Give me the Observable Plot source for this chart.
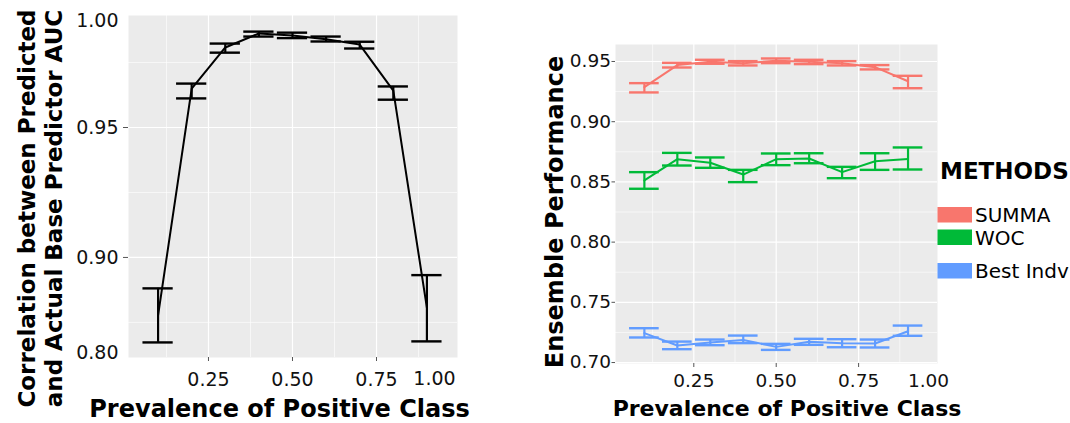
<!DOCTYPE html>
<html><head><meta charset="utf-8">
<script src="https://cdn.jsdelivr.net/npm/d3@7"></script>
<script src="https://cdn.jsdelivr.net/npm/@observablehq/plot@0.6"></script>
<style>
body{margin:0;background:#fff;}
#wrap{position:relative;width:1070px;height:423px;overflow:hidden;}
#left{position:absolute;left:0;top:0;}
#right{position:absolute;left:470px;top:0;}
#legend{position:absolute;left:0;top:0;pointer-events:none;}
</style></head><body>
<div id="wrap"><div id="left"></div><div id="right"></div><svg id="legend" width="1070" height="423"></svg></div>
<script>
// ---- data ----
const prevalence = [0.1, 0.2, 0.3, 0.4, 0.5, 0.6, 0.7, 0.8, 0.9];

// left panel: correlation between predicted and actual base predictor AUC
const corrMean = [0.8777, 0.9650, 0.9808, 0.9862, 0.9854, 0.9840, 0.9819, 0.9642, 0.8806];
const corrLow  = [0.8673, 0.9612, 0.9788, 0.9850, 0.9844, 0.9831, 0.9804, 0.9607, 0.8677];
const corrHigh = [0.8881, 0.9669, 0.9823, 0.9869, 0.9865, 0.9850, 0.9830, 0.9658, 0.8932];

// right panel: ensemble performance
const methods = ["SUMMA", "WOC", "Best Indv"];
const methodColors = ["#F8766D", "#00BA38", "#619CFF"];
const summaMean = [0.9287, 0.9470, 0.9497, 0.9486, 0.9506, 0.9497, 0.9486, 0.9453, 0.9336];
const summaLow  = [0.9243, 0.9450, 0.9481, 0.9467, 0.9486, 0.9478, 0.9467, 0.9434, 0.9278];
const summaHigh = [0.9320, 0.9489, 0.9514, 0.9503, 0.9525, 0.9514, 0.9503, 0.9470, 0.9381];
const wocMean = [0.8512, 0.8689, 0.8659, 0.8561, 0.8689, 0.8694, 0.8581, 0.8672, 0.8691];
const wocLow  = [0.8443, 0.8636, 0.8617, 0.8498, 0.8639, 0.8655, 0.8531, 0.8600, 0.8603];
const wocHigh = [0.8581, 0.8741, 0.8703, 0.8600, 0.8736, 0.8738, 0.8625, 0.8738, 0.8786];
const bestMean = [0.7244, 0.7141, 0.7166, 0.7188, 0.7130, 0.7172, 0.7161, 0.7158, 0.7260];
const bestLow  = [0.7208, 0.7111, 0.7144, 0.7161, 0.7105, 0.7147, 0.7127, 0.7125, 0.7222];
const bestHigh = [0.7285, 0.7174, 0.7191, 0.7224, 0.7155, 0.7197, 0.7194, 0.7191, 0.7307];

// ticks
const leftXTicks = [0.25, 0.5, 0.75];
const leftXExtraTick = [0.9226];            // where the "1.00" label sits
const leftXExtraLabel = ["1.00"];
const leftYTicks = [0.90, 0.95];
const leftYExtraTicks = [0.99115, 0.86346];   // where "1.00" / "0.80" labels sit
const leftYExtraLabels = ["1.00", "0.80"];
const xMinor = [0.125, 0.375, 0.625, 0.875];
const leftYMinor = [0.875, 0.925, 0.975];
const rightXTicks = [0.25, 0.5, 0.75];
const rightXExtraTick = [0.962];             // where the "1.00" label sits
const rightXExtraLabel = ["1.00"];
const rightYTicks = [0.70, 0.75, 0.80, 0.85, 0.90, 0.95];
const rightYMinor = [0.725, 0.775, 0.825, 0.875, 0.925];

// ---- build ----
const FONT = "DejaVu Sans";
const capHalf = 0.045;
const leftData = prevalence.map((p, i) => ({p, mean: corrMean[i], lo: corrLow[i], hi: corrHigh[i]}));
const means = [summaMean, wocMean, bestMean], lows = [summaLow, wocLow, bestLow], highs = [summaHigh, wocHigh, bestHigh];
const rightData = methods.flatMap((m, k) => prevalence.map((p, i) => ({method: m, p, mean: means[k][i], lo: lows[k][i], hi: highs[k][i]})));
const f2 = d3.format(".2f");
const yExtraMap = new Map(leftYExtraTicks.map((v, i) => [v, leftYExtraLabels[i]]));
const xExtraMap = new Map(leftXExtraTick.map((v, i) => [v, leftXExtraLabel[i]]));
const rxExtraMap = new Map(rightXExtraTick.map((v, i) => [v, rightXExtraLabel[i]]));

const gridStyle = {stroke: "white", strokeOpacity: 1};

const leftPlot = Plot.plot({
  width: 470, height: 423,
  marginTop: 15, marginBottom: 66, marginLeft: 128, marginRight: 13,
  style: {fontFamily: FONT, fontSize: "19px", color: "#111", background: "transparent", overflow: "visible"},
  x: {domain: [0.012, 0.991]},
  y: {domain: [0.8615, 0.9931]},
  marks: [
    Plot.frame({fill: "#EBEBEB", stroke: null}),
    Plot.gridX(xMinor, {...gridStyle, strokeWidth: 0.6}),
    Plot.gridY(leftYMinor, {...gridStyle, strokeWidth: 0.6}),
    Plot.gridX(leftXTicks, {...gridStyle, strokeWidth: 1.2}),
    Plot.gridY(leftYTicks, {...gridStyle, strokeWidth: 1.2}),
    Plot.axisX(leftXTicks, {tickSize: 4, tickPadding: 11, tickFormat: f2, label: null, stroke: "#555", fill: "#111"}),
    Plot.axisX(leftXExtraTick, {tickSize: 0, tickPadding: 13.5, tickFormat: d => xExtraMap.get(d), label: null, fill: "#111"}),
    Plot.axisY(leftYTicks, {tickSize: 5, tickPadding: 5, tickFormat: f2, label: null, stroke: "#555", fill: "#111"}),
    Plot.axisY(leftYExtraTicks, {tickSize: 0, tickPadding: 10, tickFormat: d => yExtraMap.get(d), label: null, fill: "#111"}),
    Plot.line(leftData, {x: "p", y: "mean", stroke: "black", strokeWidth: 2}),
    Plot.ruleX(leftData, {x: "p", y1: "lo", y2: "hi", stroke: "black", strokeWidth: 2.2}),
    Plot.ruleY(leftData, {y: "lo", x1: d => d.p - capHalf, x2: d => d.p + capHalf, stroke: "black", strokeWidth: 2.4}),
    Plot.ruleY(leftData, {y: "hi", x1: d => d.p - capHalf, x2: d => d.p + capHalf, stroke: "black", strokeWidth: 2.4}),
    Plot.text(["Prevalence of Positive Class"], {frameAnchor: "bottom", lineAnchor: "top", dx: -13.5, dy: 42,
      fontSize: 24, fontWeight: "bold", fill: "black"}),
    Plot.text(["Correlation between Predicted\nand Actual Base Predictor AUC"], {frameAnchor: "left", rotate: -90,
      lineAnchor: "middle", textAnchor: "middle", dx: -89, dy: 22, lineHeight: 1.19,
      fontSize: 23, fontWeight: "bold", fill: "black"})
  ]
});
document.getElementById("left").appendChild(leftPlot);

const rightPlot = Plot.plot({
  width: 600, height: 423,
  marginTop: 44, marginBottom: 60, marginLeft: 145, marginRight: 133,
  style: {fontFamily: FONT, fontSize: "18.5px", color: "#111", background: "transparent", overflow: "visible"},
  x: {domain: [0.0124, 0.9894]},
  y: {domain: [0.6992, 0.9641]},
  color: {domain: methods, range: methodColors},
  marks: [
    Plot.frame({fill: "#EBEBEB", stroke: null}),
    Plot.gridX(xMinor, {...gridStyle, strokeWidth: 0.6}),
    Plot.gridY(rightYMinor, {...gridStyle, strokeWidth: 0.6}),
    Plot.gridX(rightXTicks, {...gridStyle, strokeWidth: 1.2}),
    Plot.gridY(rightYTicks, {...gridStyle, strokeWidth: 1.2}),
    Plot.axisX(rightXTicks, {tickSize: 4, tickPadding: 6, tickFormat: f2, label: null, stroke: "#555", fill: "#111"}),
    Plot.axisX(rightXExtraTick, {tickSize: 0, tickPadding: 10, tickFormat: d => rxExtraMap.get(d), label: null, fill: "#111"}),
    Plot.axisY(rightYTicks, {tickSize: 3.5, tickPadding: 1, tickFormat: f2, label: null, stroke: "#555", fill: "#111"}),
    Plot.line(rightData, {x: "p", y: "mean", z: "method", stroke: "method", strokeWidth: 2}),
    Plot.ruleX(rightData, {x: "p", y1: "lo", y2: "hi", stroke: "method", strokeWidth: 2.2}),
    Plot.ruleY(rightData, {y: "lo", x1: d => d.p - capHalf, x2: d => d.p + capHalf, stroke: "method", strokeWidth: 2.4}),
    Plot.ruleY(rightData, {y: "hi", x1: d => d.p - capHalf, x2: d => d.p + capHalf, stroke: "method", strokeWidth: 2.4}),
    Plot.text(["Prevalence of Positive Class"], {frameAnchor: "bottom", lineAnchor: "top", dx: 10.5, dy: 37,
      fontSize: 22, fontWeight: "bold", fill: "black"}),
    Plot.text(["Ensemble Performance"], {frameAnchor: "left", rotate: -90, lineAnchor: "middle", textAnchor: "middle",
      dx: -60.5, dy: 8, fontSize: 24, fontWeight: "bold", fill: "black"})
  ]
});
document.getElementById("right").appendChild(rightPlot);

// ---- legend ----
const lg = d3.select("#legend").style("font-family", FONT);
lg.append("text").attr("x", 940).attr("y", 179).attr("font-size", 23).attr("font-weight", "bold").attr("fill", "black").text("METHODS");
const keyTops = [207, 229.5, 263];
const keyBase = [222.3, 245, 278.3];
methods.forEach((m, i) => {
  lg.append("rect").attr("x", 937.5).attr("y", keyTops[i]).attr("width", 34.5).attr("height", 15.5).attr("fill", methodColors[i]);
  lg.append("text").attr("x", 975).attr("y", keyBase[i]).attr("font-size", 20).attr("fill", "black").text(m);
});
</script>
</body></html>
